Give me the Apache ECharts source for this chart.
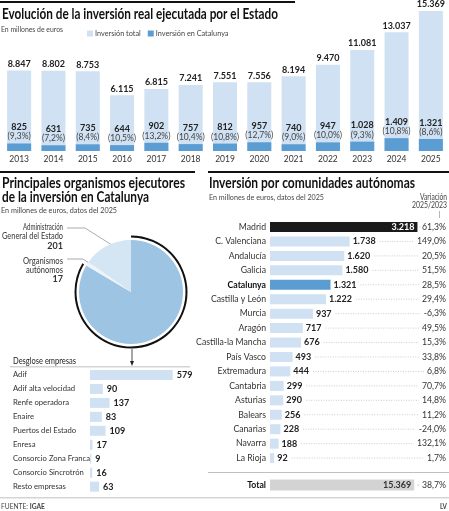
<!DOCTYPE html>
<html>
<head>
<meta charset="utf-8">
<script src="https://cdn.jsdelivr.net/npm/echarts@6/dist/echarts.min.js"></script>
<style>
  html, body { margin: 0; padding: 0; background: #fff; }
  #main { width: 449px; height: 511px; }
</style>
</head>
<body>
<div id="main"></div>
<script>
// datos
var years = ['2013', '2014', '2015', '2016', '2017', '2018', '2019', '2020', '2021', '2022', '2023', '2024', '2025'];
var totalInv = [8847, 8802, 8753, 6115, 6815, 7241, 7551, 7556, 8194, 9470, 11081, 13037, 15369];
var catInv = [825, 631, 735, 644, 902, 757, 812, 957, 740, 947, 1028, 1409, 1321];
var catPct = ['9,3', '7,2', '8,4', '10,5', '13,2', '10,4', '10,8', '12,7', '9,0', '10,0', '9,3', '10,8', '8,6'];

var organismos = ['Empresas', 'Organismos autónomos', 'Administración General del Estado'];
var organismosVal = [1103, 17, 201];

var empresas = ['Adif', 'Adif alta velocidad', 'Renfe operadora', 'Enaire', 'Puertos del Estado', 'Enresa', 'Consorcio Zona Franca', 'Consorcio Sincrotrón', 'Resto empresas'];
var empresasVal = [579, 90, 137, 83, 109, 17, 9, 16, 63];

var ccaa = ['Madrid', 'C. Valenciana', 'Andalucía', 'Galicia', 'Catalunya', 'Castilla y León', 'Murcia', 'Aragón', 'Castilla-la Mancha', 'País Vasco', 'Extremadura', 'Cantabria', 'Asturias', 'Balears', 'Canarias', 'Navarra', 'La Rioja'];
var ccaaVal = [3218, 1738, 1620, 1580, 1321, 1222, 937, 717, 676, 493, 444, 299, 290, 256, 228, 188, 92];
var ccaaVar = ['61,3%', '149,0%', '20,5%', '51,5%', '28,5%', '29,4%', '-6,3%', '49,5%', '15,3%', '33,8%', '6,8%', '70,7%', '14,8%', '11,2%', '-24,0%', '132,1%', '1,7%'];
var totalLabel = ['Total'];
var totalVal = [15369];
var totalVar = ['38,7%'];

var FONT = "Lato, Roboto, sans-serif";
var LIGHT = '#cfe1f2';
var DARK = '#5b9cd2';

function fmt(v) {
    return String(v).replace(/\B(?=(\d{3})+(?!\d))/g, '.');
}

var mctx = document.createElement('canvas').getContext('2d');
function textW(t, size, bold) {
    mctx.font = (bold ? 'bold ' : '') + size + 'px ' + FONT;
    return mctx.measureText(t).width;
}

// texto estrecho: se escala en horizontal (no hay fuente condensada)
function txt(x, y, text, size, opts) {
    opts = opts || {};
    var sx = opts.sx || 0.9;
    if (opts.w) sx = opts.w / textW(text, size, opts.bold);
    return {
        type: 'text', silent: true, x: x, y: y, scaleX: sx,
        style: {
            x: 0, y: 0, text: text,
            font: (opts.bold ? 'bold ' : '') + size + 'px ' + FONT,
            fill: opts.color || '#333',
            align: opts.align || 'left',
            verticalAlign: 'middle'
        }
    };
}
function rule(x, y, w, h, color) {
    return { type: 'rect', silent: true, shape: { x: x, y: y, width: w, height: h }, style: { fill: color } };
}
function pline(points, color) {
    return { type: 'polyline', silent: true, shape: { points: points }, style: { stroke: color || '#888', lineWidth: 0.7, fill: null } };
}

var dom = document.getElementById('main');
var myChart = echarts.init(dom);

var graphics = [
    rule(0, 1, 295, 2, '#111'),
    txt(2, 14, 'Evolución de la inversión real ejecutada por el Estado', 14.5, { bold: true, color: '#111', w: 276 }),
    txt(1, 29, 'En millones de euros', 8, { color: '#444', w: 62 }),

    rule(0, 171, 195, 2, '#111'),
    txt(2, 183, 'Principales organismos ejecutores', 14.5, { bold: true, color: '#111', w: 183 }),
    txt(2, 197, 'de la inversión en Catalunya', 14.5, { bold: true, color: '#111', w: 147 }),
    txt(1, 210, 'En millones de euros, datos del 2025', 8, { color: '#444', w: 116 }),

    rule(208, 171, 241, 2, '#111'),
    txt(209, 183, 'Inversión por comunidades autónomas', 14.5, { bold: true, color: '#111', w: 206 }),
    txt(209, 197, 'En millones de euros, datos del 2025', 8, { color: '#444', w: 115 }),
    txt(447, 197, 'Variación', 8.5, { align: 'right', color: '#444', w: 27 }),
    txt(447, 205.5, '2025/2023', 8.5, { align: 'right', color: '#444', w: 35 }),
    rule(439, 211, 0.7, 7, '#999'),

    // etiquetas de la tarta
    txt(63, 227, 'Administración', 9, { align: 'right', w: 40 }),
    txt(63, 236.5, 'General del Estado', 9, { align: 'right', w: 61 }),
    txt(63, 246.5, fmt(organismosVal[2]), 9, { align: 'right', bold: true, sx: 1 }),
    pline([[67, 228], [85, 228], [115, 247]]),
    txt(63, 261, 'Organismos', 9, { align: 'right', w: 40 }),
    txt(63, 270, 'autónomos', 9, { align: 'right', w: 37 }),
    txt(63, 279.5, fmt(organismosVal[1]), 9, { align: 'right', bold: true, sx: 1 }),
    pline([[67, 259], [83, 259], [92, 265]]),
    txt(129, 322, organismos[0], 9, { align: 'center', color: '#222', w: 28 }),
    txt(129, 332, fmt(organismosVal[0]), 9, { align: 'center', bold: true, color: '#222', sx: 1 }),

    // flecha a desglose
    { type: 'line', silent: true, shape: { x1: 132, y1: 349, x2: 132, y2: 362 }, style: { stroke: '#222', lineWidth: 0.8 } },
    { type: 'polygon', silent: true, shape: { points: [[130, 361], [134, 361], [132, 366]] }, style: { fill: '#222' } },
    txt(13, 361, 'Desglose empresas', 8.5, { color: '#222', w: 63 }),
    rule(10, 366.5, 180, 0.8, '#aaa'),

    // total
    rule(208, 472, 241, 0.8, '#aaa'),
    rule(0, 497.5, 449, 0.8, '#aaa'),
    {
        type: 'text', silent: true, x: 1, y: 507, scaleX: 0.95,
        style: {
            x: 0, y: 0, text: '{a|FUENTE: }{b|IGAE}', verticalAlign: 'middle',
            rich: {
                a: { font: '7px ' + FONT, fill: '#444' },
                b: { font: 'bold 7px ' + FONT, fill: '#444' }
            }
        }
    },
    txt(447, 507, 'LV', 7, { align: 'right', bold: true, color: '#444' })
];

option = {
    animation: false,
    textStyle: { fontFamily: FONT },
    legend: {
        data: ['Inversión total', 'Inversión en Catalunya'],
        left: 82, top: 25,
        icon: 'rect', itemWidth: 6, itemHeight: 6, itemGap: 7,
        selectedMode: false,
        textStyle: { fontSize: 7.3, color: '#444', padding: [0, 0, 0, -3] }
    },
    grid: [
        { left: 2, right: 1, top: 11, height: 140 },
        { left: 90, width: 100, top: 368, height: 125.6 },
        { left: 270, right: 2, top: 219.8, height: 245.5 },
        { left: 270, right: 2, top: 478, height: 14 }
    ],
    xAxis: [
        {
            gridIndex: 0, type: 'category', data: years,
            axisLine: { show: false }, axisTick: { show: false },
            axisLabel: { fontSize: 8.5, color: '#333', margin: 4 }
        },
        { gridIndex: 1, type: 'value', min: 0, max: 700, show: false },
        { gridIndex: 2, type: 'value', min: 0, max: 3841, show: false },
        { gridIndex: 3, type: 'value', min: 0, max: 18760, show: false }
    ],
    yAxis: [
        { gridIndex: 0, type: 'value', min: 0, max: 15369, show: false },
        {
            gridIndex: 1, type: 'category', data: empresas, inverse: true,
            axisLine: { show: false }, axisTick: { show: false },
            axisLabel: { fontSize: 7.7, color: '#333', align: 'left', margin: 77 }
        },
        {
            gridIndex: 2, type: 'category', data: ccaa, inverse: true,
            axisLine: { show: false }, axisTick: { show: false },
            axisLabel: {
                fontSize: 8.7, color: '#333', margin: 4,
                formatter: function (v) { return v === 'Catalunya' ? '{b|' + v + '}' : v; },
                rich: { b: { fontSize: 8.7, fontWeight: 'bold', color: '#111' } }
            }
        },
        {
            gridIndex: 2, type: 'category', data: ccaaVar, inverse: true, position: 'right',
            axisLine: { show: false }, axisTick: { show: false },
            axisLabel: { fontSize: 8.7, color: '#333', align: 'right', margin: 0 }
        },
        {
            gridIndex: 3, type: 'category', data: totalLabel,
            axisLine: { show: false }, axisTick: { show: false },
            axisLabel: { fontSize: 8.7, color: '#111', fontWeight: 'bold', margin: 4 }
        },
        {
            gridIndex: 3, type: 'category', data: totalVar, position: 'right',
            axisLine: { show: false }, axisTick: { show: false },
            axisLabel: { fontSize: 8.7, color: '#333', align: 'right', margin: 0 }
        }
    ],
    series: [
        {
            name: 'Inversión total', type: 'bar', xAxisIndex: 0, yAxisIndex: 0,
            data: totalInv, barWidth: 24, itemStyle: { color: LIGHT },
            label: {
                show: true, position: 'top', distance: 2,
                fontSize: 9, fontWeight: 'bold', color: '#222',
                formatter: function (p) { return fmt(p.value); }
            }
        },
        {
            name: 'Inversión en Catalunya', type: 'bar', xAxisIndex: 0, yAxisIndex: 0,
            data: catInv, barWidth: 24, barGap: '-100%', itemStyle: { color: DARK },
            label: {
                show: true, position: 'top', distance: 2,
                formatter: function (p) { return '{v|' + fmt(p.value) + '}\n{p|(' + catPct[p.dataIndex] + '%)}'; },
                rich: {
                    v: { fontSize: 9, fontWeight: 'bold', color: '#222', lineHeight: 9.5 },
                    p: { fontSize: 8.5, color: '#444', lineHeight: 9.5 }
                }
            }
        },
        {
            type: 'pie', center: [131, 292], radius: 52, startAngle: 90, clockwise: true,
            silent: true, label: { show: false }, labelLine: { show: false },
            itemStyle: { borderWidth: 0 },
            data: organismos.map(function (n, i) {
                return { name: n, value: organismosVal[i], itemStyle: { color: ['#9ec4e4', '#eef4fa', '#d4e5f4'][i] } };
            })
        },
        {
            type: 'pie', center: [131, 292], radius: [54.5, 56.5], startAngle: 90, clockwise: true,
            silent: true, label: { show: false }, labelLine: { show: false },
            data: [
                { name: organismos[0], value: organismosVal[0], itemStyle: { color: '#111' } },
                { name: 'resto', value: organismosVal[1] + organismosVal[2], itemStyle: { color: 'rgba(0,0,0,0)' } }
            ]
        },
        {
            type: 'bar', xAxisIndex: 1, yAxisIndex: 1, data: empresasVal, barWidth: 10,
            itemStyle: { color: LIGHT },
            label: {
                show: true, position: 'right', distance: 4,
                fontSize: 9, fontWeight: 'bold', color: '#222'
            }
        },
        {
            type: 'bar', xAxisIndex: 2, yAxisIndex: 2, barWidth: 10,
            data: ccaaVal.map(function (v, i) {
                var c = i === 0 ? '#1a1a1a' : (ccaa[i] === 'Catalunya' ? DARK : LIGHT);
                var item = { value: v, itemStyle: { color: c } };
                if (i === 0) {
                    item.label = { position: 'insideRight', color: '#fff', distance: 3 };
                }
                return item;
            }),
            label: {
                show: true, position: 'right', distance: 3,
                fontSize: 9, fontWeight: 'bold', color: '#222',
                formatter: function (p) { return fmt(p.value); }
            }
        },
        {
            type: 'custom', xAxisIndex: 2, yAxisIndex: 2, silent: true,
            data: ccaaVal.map(function (v, i) { return [v, i]; }),
            renderItem: function (params, api) {
                var i = api.value(1);
                var p = api.coord([api.value(0), i]);
                var x0 = i === 0 ? p[0] + 3 : p[0] + 3 + textW(fmt(api.value(0)), 9, true) + 4;
                var right = params.coordSys.x + params.coordSys.width;
                var x1 = right - textW(ccaaVar[i], 8.7, false) - 3;
                return {
                    type: 'line',
                    shape: { x1: x0, y1: p[1], x2: x1, y2: p[1] },
                    style: { stroke: '#aaa', lineWidth: 0.6, lineDash: [1, 1.5] }
                };
            }
        },
        {
            type: 'bar', xAxisIndex: 3, yAxisIndex: 4, data: totalVal, barWidth: 11,
            itemStyle: { color: '#d3d3d3' },
            label: {
                show: true, position: 'insideRight', distance: 3,
                fontSize: 9, fontWeight: 'bold', color: '#333',
                formatter: function (p) { return fmt(p.value); }
            }
        },
        {
            type: 'custom', xAxisIndex: 3, yAxisIndex: 4, silent: true,
            data: totalVal.map(function (v, i) { return [v, i]; }),
            renderItem: function (params, api) {
                var p = api.coord([api.value(0), api.value(1)]);
                var right = params.coordSys.x + params.coordSys.width;
                var x1 = right - textW(totalVar[0], 8.7, false) - 3;
                return {
                    type: 'line',
                    shape: { x1: p[0] + 3, y1: p[1], x2: x1, y2: p[1] },
                    style: { stroke: '#aaa', lineWidth: 0.6 }
                };
            }
        }
    ],
    graphic: graphics
};

if (option && typeof option === "object") {
    myChart.setOption(option, true);
}
</script>
</body>
</html>
